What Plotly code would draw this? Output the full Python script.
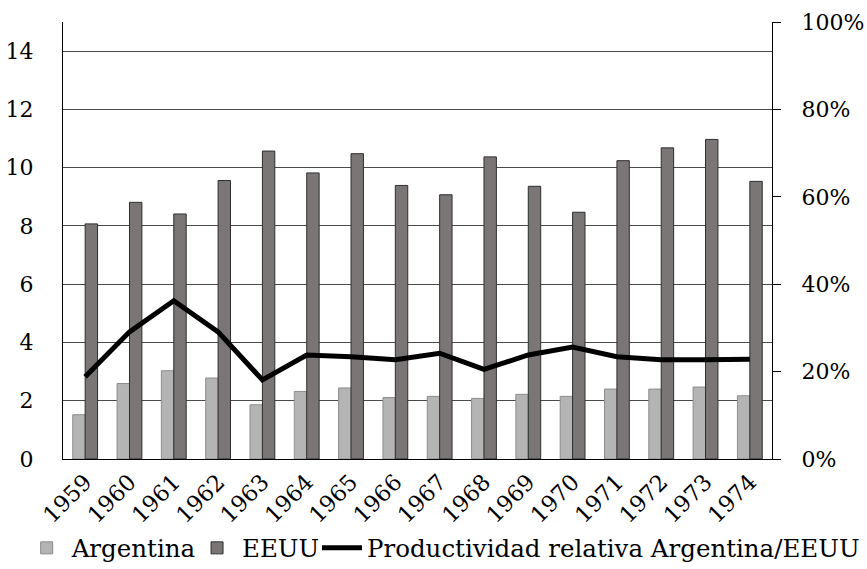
import plotly.graph_objects as go

years = [str(y) for y in range(1959, 1975)]
argentina = [1.52, 2.59, 3.03, 2.78, 1.86, 2.32, 2.44, 2.11, 2.15, 2.08, 2.22, 2.15, 2.40, 2.40, 2.47, 2.17]
eeuu = [8.07, 8.81, 8.41, 9.56, 10.57, 9.82, 10.48, 9.39, 9.07, 10.37, 9.36, 8.47, 10.24, 10.68, 10.97, 9.53]
productividad = [0.188, 0.291, 0.362, 0.291, 0.181, 0.238, 0.234, 0.227, 0.242, 0.205,
                 0.238, 0.256, 0.234, 0.227, 0.227, 0.228]

left_ticks = list(range(0, 15, 2))
right_ticks = [0, 0.2, 0.4, 0.6, 0.8, 1.0]

FONT = "DejaVu Serif"

fig = go.Figure()
fig.add_trace(go.Bar(
    x=years, y=argentina, name="Argentina", legend="legend",
    marker=dict(color="#b4b4b4", line=dict(color="#8c8c8c", width=1)),
))
fig.add_trace(go.Bar(
    x=years, y=eeuu, name="EEUU", legend="legend2",
    marker=dict(color="#7a7676", line=dict(color="#2e2e2e", width=1)),
))
fig.add_trace(go.Scatter(
    x=years, y=productividad, name="Productividad relativa Argentina/EEUU",
    legend="legend3", yaxis="y2", mode="lines", line=dict(color="black", width=5),
))

# three single-entry legends laid out in a row under the axis labels
legend_common = dict(
    orientation="h", xref="container", yref="container",
    xanchor="left", y=0.037, yanchor="middle",
    font=dict(family=FONT, size=24.5, color="black"),
    itemwidth=40, bgcolor="rgba(0,0,0,0)",
)

tick_font = dict(family=FONT, size=22, color="black")

fig.update_layout(
    width=867, height=569,
    margin=dict(l=63, r=95, t=22, b=110, autoexpand=False),
    paper_bgcolor="white", plot_bgcolor="white",
    font=dict(family=FONT, size=22, color="black"),
    barmode="group", bargap=0.44, bargroupgap=0,
    showlegend=True,
    legend=dict(legend_common, x=0.025),
    legend2=dict(legend_common, x=0.2215),
    legend3=dict(legend_common, x=0.3656),
    xaxis=dict(
        type="category", showline=True, linecolor="black", linewidth=1,
        ticks="", tickangle=-45, tickfont=dict(tick_font, size=22.5),
        showgrid=False, automargin=False,
    ),
    yaxis=dict(
        range=[0, 15], tickvals=left_ticks, showline=True, linecolor="black",
        linewidth=1, showgrid=True, gridcolor="#4a4a4a", gridwidth=1,
        ticks="", ticklabelstandoff=24, zeroline=False, automargin=False,
        tickfont=tick_font,
    ),
    yaxis2=dict(
        range=[0, 1], tickvals=right_ticks, tickformat=".0%", overlaying="y",
        side="right", showline=True, linecolor="black", linewidth=1,
        showgrid=False, ticks="outside", ticklen=8, tickcolor="black",
        ticklabelstandoff=16, zeroline=False, automargin=False,
        tickfont=tick_font,
    ),
)

fig.write_html("out.html")
